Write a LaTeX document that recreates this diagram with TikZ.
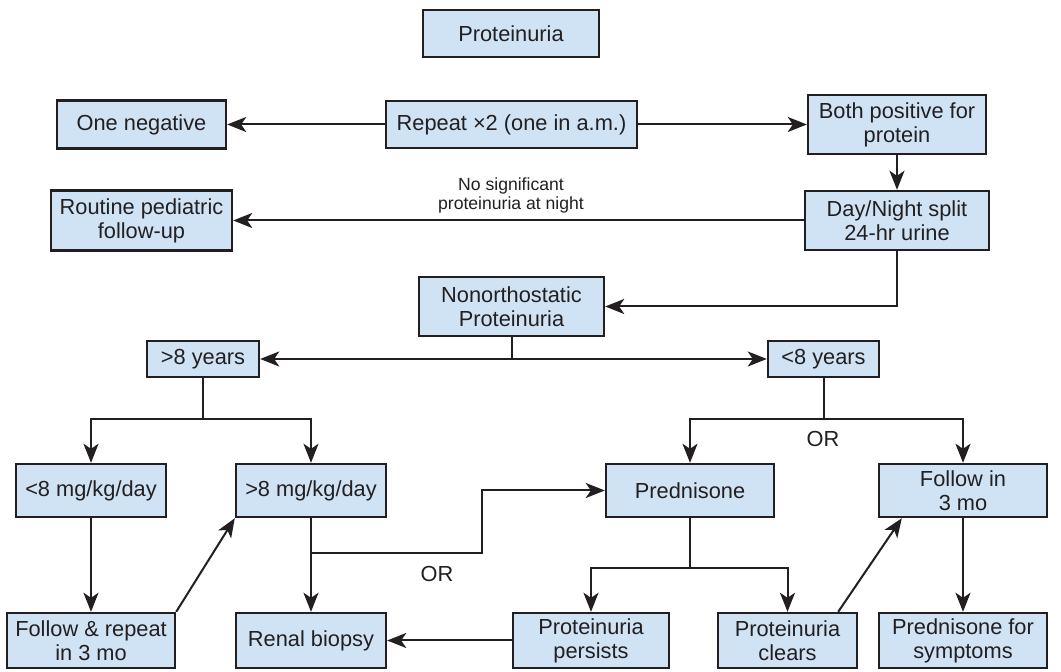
\documentclass[tikz,border=0pt]{standalone}
\usepackage{fontspec}
\setmainfont{Liberation Sans}
\usetikzlibrary{arrows.meta,calc}
\definecolor{boxfill}{RGB}{207,227,245}
\definecolor{ink}{RGB}{35,31,32}
\begin{document}
\begin{tikzpicture}[x=0.5pt,y=-0.5pt,
  box/.style={draw=ink,fill=boxfill,line width=1.2pt,inner sep=0pt,align=center,
     text=ink,font=\fontsize{10.9pt}{12pt}\selectfont},
  arr/.style={draw=ink,line width=1pt,-{Stealth[length=9.5pt,width=7.5pt,inset=2.5pt]}},
  ln/.style={draw=ink,line width=1pt},
  lbl/.style={text=ink,align=center,inner sep=0pt,font=\fontsize{8.8pt}{9.5pt}\selectfont},
  orl/.style={text=ink,inner sep=0pt,font=\fontsize{10.9pt}{12pt}\selectfont}]
\useasboundingbox[fill=white] (0,0) rectangle (1061,672);
\node[box,minimum width=88pt,minimum height=23.5pt] (prot) at (511,33.5) {Proteinuria};
\node[box,minimum width=84.5pt,minimum height=24pt] (oneneg) at (141.5,124.5) {One negative};
\node[box,minimum width=125.5pt,minimum height=23.5pt] (repeat) at (511.5,124.5) {Repeat ×2 (one in a.m.)};
\node[box,minimum width=89pt,minimum height=29.5pt] (both) at (897,124.5) {Both positive for\\protein};
\node[box,minimum width=92pt,minimum height=29.5pt] (daynight) at (897,220.5) {Day/Night split\\24-hr urine};
\node[box,minimum width=90.5pt,minimum height=30pt] (routine) at (141.5,220.5) {Routine pediatric\\follow-up};
\node[lbl] (nosig) at (511,195) {No significant\\proteinuria at night};
\node[box,minimum width=92.5pt,minimum height=29.5pt] (nonortho) at (511.5,306.5) {Nonorthostatic\\Proteinuria};
\node[box,minimum width=56pt,minimum height=18pt] (gt8y) at (203,359) {>8 years};
\node[box,minimum width=55.5pt,minimum height=18pt] (lt8y) at (823.5,359) {<8 years};
\node[box,minimum width=75pt,minimum height=26.5pt] (lt8mg) at (91,490.5) {<8 mg/kg/day};
\node[box,minimum width=75pt,minimum height=26.5pt] (gt8mg) at (311,490.5) {>8 mg/kg/day};
\node[box,minimum width=84pt,minimum height=27.5pt] (followrep) at (91,640.5) {Follow \& repeat\\in 3 mo};
\node[box,minimum width=75pt,minimum height=27.5pt] (renal) at (311,640.5) {Renal biopsy};
\node[box,minimum width=84pt,minimum height=26.5pt] (pred) at (690,490.5) {Prednisone};
\node[box,minimum width=84pt,minimum height=26.5pt] (follow3) at (963,490.5) {Follow in\\3 mo};
\node[box,minimum width=78pt,minimum height=27.5pt] (persists) at (591,640.5) {Proteinuria\\persists};
\node[box,minimum width=69.5pt,minimum height=27.5pt] (clears) at (787.5,640.5) {Proteinuria\\clears};
\node[box,minimum width=84pt,minimum height=27.5pt] (predsym) at (963,640.5) {Prednisone for\\symptoms};
\node[orl] (or1) at (437,574) {OR};
\node[orl] (or2) at (823,439) {OR};
\coordinate (j1) at (203,419);
\coordinate (j2) at (311,553);
\coordinate (j2b) at (482,553);
\coordinate (j3) at (823.5,419);
\coordinate (j4) at (690,568);
\draw[arr] (repeat.west) -- (oneneg.east);
\draw[arr] (repeat.east) -- (both.west);
\draw[arr] (both.south) -- (daynight.north);
\draw[arr] (daynight.west) -- (routine.east);
\draw[arr] (daynight.south) |- (nonortho.east);
\draw[arr] (nonortho.south) |- (gt8y.east);
\draw[arr] (nonortho.south) |- (lt8y.west);
\draw[ln] (gt8y.south) -- (j1);
\draw[arr] (j1) -| (lt8mg.north);
\draw[arr] (j1) -| (gt8mg.north);
\draw[arr] (lt8mg.south) -- (followrep.north);
\draw[arr] (followrep.north east) -- (gt8mg.south west);
\draw[arr] (gt8mg.south) -- (renal.north);
\draw[arr] (j2) -- (j2b) |- (pred.west);
\draw[arr] (persists.west) -- (renal.east);
\draw[ln] (lt8y.south) -- (j3);
\draw[arr] (j3) -| (pred.north);
\draw[arr] (j3) -| (follow3.north);
\draw[ln] (pred.south) -- (j4);
\draw[arr] (j4) -| (persists.north);
\draw[arr] (j4) -| (clears.north);
\draw[arr] ($(clears.north east)+(-20,0)$) -- ($(follow3.south west)+(24,0)$);
\draw[arr] (follow3.south) -- (predsym.north);
\end{tikzpicture}
\end{document}
